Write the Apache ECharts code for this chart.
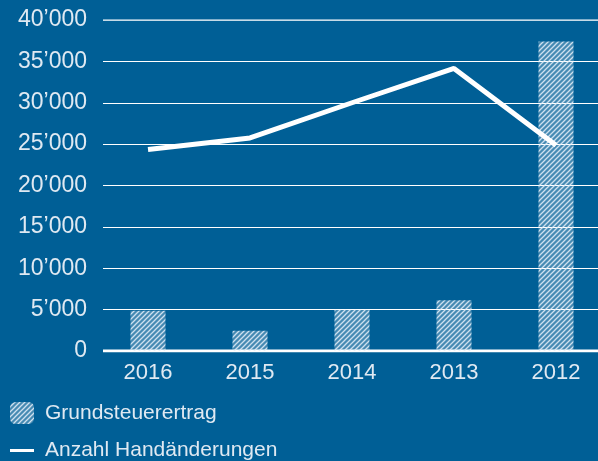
<!DOCTYPE html>
<html>
<head>
    <meta charset="utf-8">
    <title>Grundsteuer</title>
    <script src="https://cdn.jsdelivr.net/npm/echarts@6/dist/echarts.min.js"></script>
    <style>
        html, body { margin: 0; padding: 0; background: #005f96; }
    </style>
</head>
<body>
<div id="main" style="width: 598px;height:461px;"></div>
<script type="text/javascript">
    // Daten
    var jahre = ['2016', '2015', '2014', '2013', '2012'];
    var grundsteuerertrag = [4850, 2450, 4980, 6120, 37400];
    var handaenderungen = [24350, 25750, 30000, 34150, 24850];
    var yTicks = [0, 5000, 10000, 15000, 20000, 25000, 30000, 35000, 40000];

    // Schraffur fuer die Balken
    function hatch() {
        var s = 5;
        var c = document.createElement('canvas');
        c.width = s; c.height = s;
        var ctx = c.getContext('2d');
        ctx.fillStyle = 'rgba(255,255,255,0.28)';
        ctx.fillRect(0, 0, s, s);
        ctx.strokeStyle = 'rgba(230,240,250,0.85)';
        ctx.lineWidth = 1.3;
        ctx.beginPath();
        ctx.moveTo(-1, s + 1); ctx.lineTo(s + 1, -1);
        ctx.moveTo(-1, 1); ctx.lineTo(1, -1);
        ctx.moveTo(s - 1, s + 1); ctx.lineTo(s + 1, s - 1);
        ctx.stroke();
        return c;
    }

    function fmt(v) {
        var s = String(v);
        return s.length > 3 ? s.slice(0, s.length - 3) + '\u2019' + s.slice(-3) : s;
    }

    var textColor = '#dfe9f2';
    var font = 'Liberation Sans, Arial, sans-serif';
    var legendText = { color: textColor, fontSize: 21, fontFamily: font, padding: [0, 0, 0, 6] };

    var myChart = echarts.init(document.getElementById('main'));

    var option = {
        backgroundColor: '#005f96',
        animation: false,
        grid: [
            { left: 103, right: 0, top: 20, bottom: 110, outerBoundsMode: 'none' },
            { left: 97, width: 510, top: 20, bottom: 110, outerBoundsMode: 'none' }
        ],
        legend: [
            {
                left: 5, top: 397,
                itemWidth: 24, itemHeight: 22,
                textStyle: legendText,
                data: ['Grundsteuerertrag']
            },
            {
                left: 5, top: 435,
                itemWidth: 24, itemHeight: 22,
                textStyle: legendText,
                data: [{ name: 'Anzahl Handänderungen', icon: 'path://M0,8.5 L24,8.5 L24,11.5 L0,11.5 Z' }]
            }
        ],
        xAxis: [
            { gridIndex: 0, type: 'value', min: 0, max: 1, show: false },
            {
                gridIndex: 1,
                type: 'category',
                data: jahre,
                axisLine: { show: false },
                axisTick: { show: false },
                axisLabel: { color: textColor, fontSize: 22, fontFamily: font, margin: 11 }
            }
        ],
        yAxis: [
            {
                gridIndex: 0,
                type: 'value',
                min: yTicks[0],
                max: yTicks[yTicks.length - 1],
                interval: 5000,
                axisLine: { show: false },
                axisTick: { show: false },
                axisLabel: {
                    color: textColor, fontSize: 23, fontFamily: font, margin: 16,
                    formatter: function (v) { return fmt(v); }
                },
                splitLine: {
                    lineStyle: {
                        color: ['#ffffff', '#ffffff', '#ffffff', '#ffffff', '#ffffff', '#ffffff', '#ffffff', '#ffffff', 'rgba(255,255,255,0.55)'],
                        width: 1.2
                    }
                }
            },
            {
                gridIndex: 1,
                type: 'value',
                min: yTicks[0],
                max: yTicks[yTicks.length - 1],
                show: false
            }
        ],
        series: [
            {
                name: 'Grundsteuerertrag',
                type: 'bar',
                xAxisIndex: 1,
                yAxisIndex: 1,
                barWidth: 35,
                data: grundsteuerertrag,
                itemStyle: { color: { image: hatch(), repeat: 'repeat' } }
            },
            {
                name: 'Anzahl Handänderungen',
                type: 'line',
                xAxisIndex: 1,
                yAxisIndex: 1,
                data: handaenderungen,
                symbol: 'none',
                lineStyle: { color: '#ffffff', width: 5 },
                itemStyle: { color: '#ffffff' },
                z: 5
            },
            {
                // Nulllinie und oberste Linie
                type: 'line',
                xAxisIndex: 0,
                yAxisIndex: 0,
                data: [[0, 0], [1, 0]],
                symbol: 'none',
                silent: true,
                lineStyle: { color: '#ffffff', width: 3 },
                z: 1
            },
            {
                type: 'line',
                xAxisIndex: 0,
                yAxisIndex: 0,
                data: [[0, 40000], [1, 40000]],
                symbol: 'none',
                silent: true,
                lineStyle: { color: 'rgba(255,255,255,0.5)', width: 2 },
                z: 1
            }
        ]
    };

    myChart.setOption(option);
</script>
</body>
</html>
